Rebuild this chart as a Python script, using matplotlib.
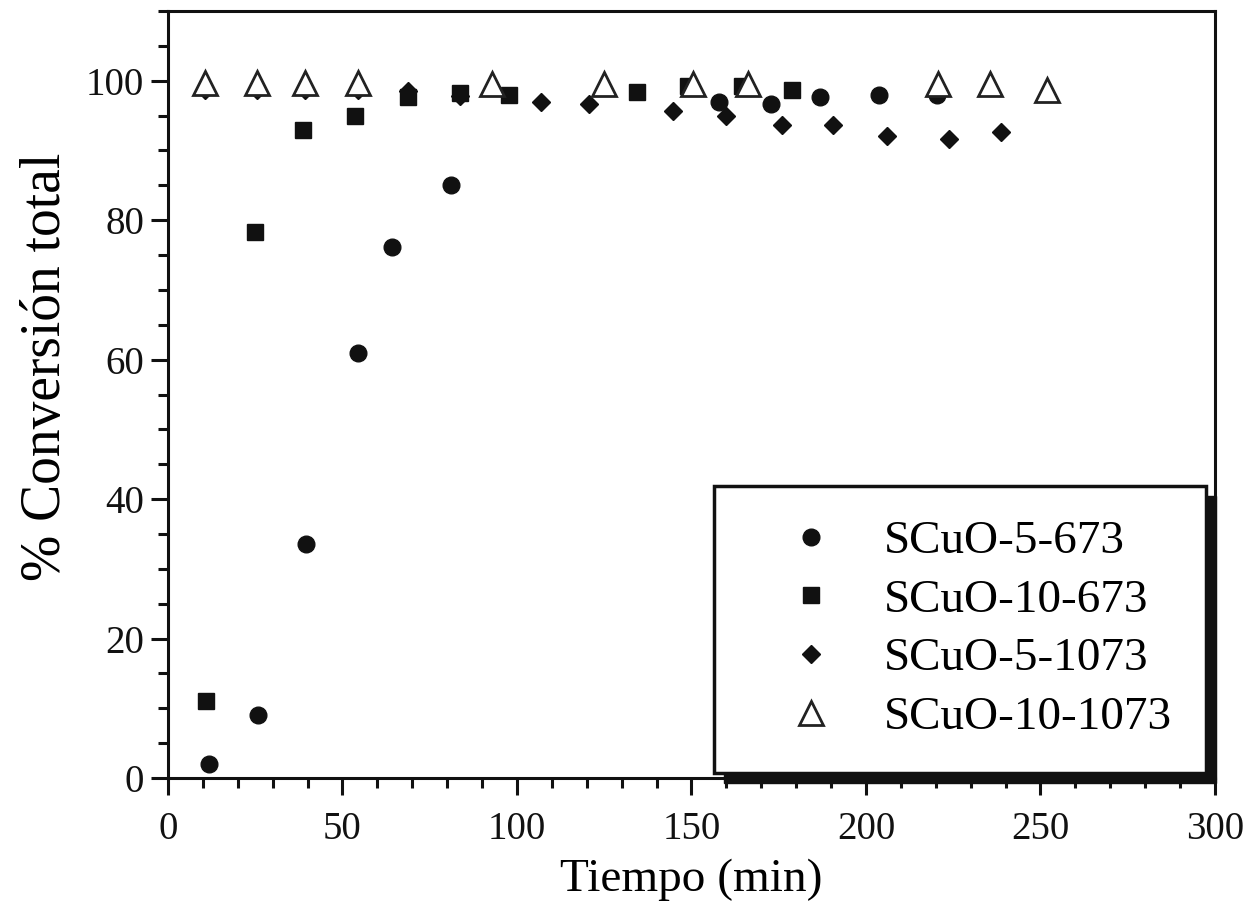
import matplotlib
matplotlib.use("Agg")
import matplotlib.pyplot as plt
from matplotlib.ticker import MultipleLocator
from matplotlib.patches import Rectangle

plt.rcParams["font.family"] = ["Liberation Serif", "DejaVu Serif"]

# tiempo (min) y % conversion total por muestra
t_5_673 = [11.7, 25.8, 39.5, 54.4, 64.2, 81.1, 157.9, 172.8, 186.8, 203.7, 220.3]
c_5_673 = [2.0, 9.1, 33.6, 60.9, 76.1, 85.0, 97.0, 96.6, 97.6, 97.9, 97.9]

t_10_673 = [10.9, 24.9, 38.8, 53.6, 68.8, 83.7, 97.7, 134.4, 149.0, 164.5, 178.8]
c_10_673 = [11.1, 78.3, 92.9, 94.9, 97.6, 98.3, 97.9, 98.4, 99.3, 99.3, 98.6]

t_5_1073 = [10.6, 25.5, 39.3, 54.4, 68.8, 83.7, 106.8, 120.6, 144.7, 159.9,
            175.9, 190.5, 206.0, 223.8, 238.7]
c_5_1073 = [98.7, 98.7, 98.7, 98.7, 98.5, 97.8, 97.0, 96.6, 95.6, 95.0,
            93.7, 93.6, 92.0, 91.7, 92.6]

t_10_1073 = [10.6, 25.5, 39.3, 54.4, 92.8, 124.9, 150.4, 166.2, 220.6, 235.5, 251.9]
c_10_1073 = [99.7, 99.7, 99.7, 99.7, 99.5, 99.5, 99.5, 99.5, 99.5, 99.5, 98.7]

labels = ["SCuO-5-673", "SCuO-10-673", "SCuO-5-1073", "SCuO-10-1073"]

fig = plt.figure(figsize=(12.58, 9.15), dpi=100)
ax = fig.add_axes([0.1335, 0.1497, 0.8323, 0.8383])

ink = "#111111"
h3, = ax.plot(t_5_1073, c_5_1073, ls="none", marker="D", ms=9.2, color=ink, zorder=2)
h1, = ax.plot(t_5_673, c_5_673, ls="none", marker="o", ms=12, color=ink, zorder=3)
h2, = ax.plot(t_10_673, c_10_673, ls="none", marker="s", ms=12, color=ink, zorder=3)
h4, = ax.plot(t_10_1073, c_10_1073, ls="none", marker="^", ms=17.5, mfc="white",
              mec="#222222", mew=2.0, zorder=4)

ax.set_xlim(0, 300)
ax.set_ylim(0, 110)
ax.xaxis.set_major_locator(MultipleLocator(50))
ax.xaxis.set_minor_locator(MultipleLocator(10))
ax.yaxis.set_major_locator(MultipleLocator(20))
ax.yaxis.set_minor_locator(MultipleLocator(5))
ax.tick_params(which="both", direction="out", width=2.2, colors=ink,
               top=False, right=False)
ax.tick_params(which="major", length=12, labelsize=28)
ax.tick_params(axis="x", which="major", pad=12)
ax.tick_params(axis="y", which="major", pad=5)
ax.tick_params(which="minor", length=7)
for s in ax.spines.values():
    s.set_linewidth(2.2)
    s.set_color(ink)

ax.set_xlabel("Tiempo (min)", fontsize=34, labelpad=7)
ax.set_ylabel("% Conversión total", fontsize=40)
ax.yaxis.set_label_coords(-0.092, 0.536)

leg = ax.legend([h1, h2, h3, h4], labels, loc="lower right",
                bbox_to_anchor=(0.9914, 0.0065), borderaxespad=0,
                fancybox=False, edgecolor=ink, framealpha=1,
                prop={"size": 34}, handlelength=2.67, handletextpad=0.2,
                borderpad=0.72, labelspacing=0.33)
leg.get_frame().set_linewidth(2.5)
leg.set_zorder(6)

# sombra negra del recuadro de la leyenda
fig.canvas.draw()
bb = leg.get_window_extent().transformed(ax.transAxes.inverted())
dx = 10 / (ax.bbox.width)
dy = 10 / (ax.bbox.height)
ax.add_patch(Rectangle((bb.x0 + dx, bb.y0 - dy), bb.width, bb.height,
                       transform=ax.transAxes, color=ink, zorder=5.5,
                       clip_on=False))

fig.savefig("out.png", dpi=100)
